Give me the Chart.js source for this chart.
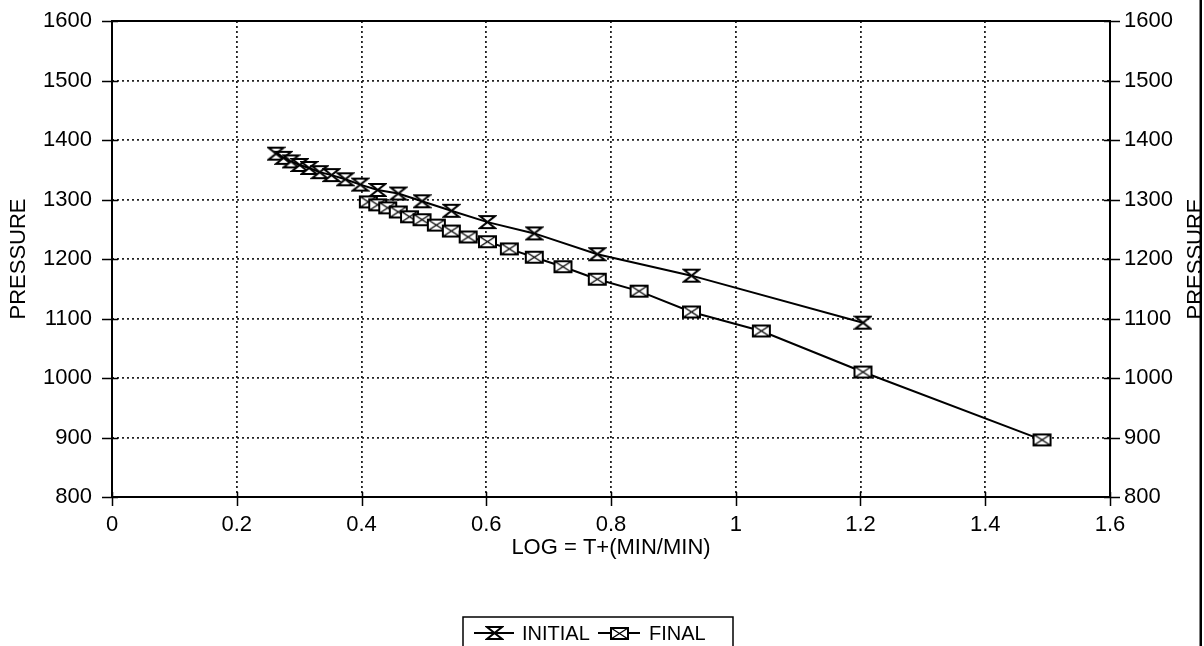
<!DOCTYPE html>
<html>
<head>
<meta charset="utf-8">
<script src="https://cdn.jsdelivr.net/npm/chart.js@4/dist/chart.umd.min.js"></script>
<style>
  html, body { margin: 0; padding: 0; background: #fff; }
  #wrap { width: 1204px; height: 646px; }
</style>
</head>
<body>
<div id="wrap"><canvas id="chart" width="1204" height="646"></canvas></div>
<script>
// Horner plot: log((T + dt) / dt) against pressure
const initialLog = [0.263, 0.275, 0.287, 0.301, 0.316, 0.333, 0.352, 0.374, 0.398, 0.426, 0.459, 0.497, 0.544, 0.602, 0.677, 0.778, 0.929, 1.204];
const initialPressure = [1377, 1370, 1364, 1358, 1353, 1346, 1341, 1334, 1325, 1316, 1310, 1297, 1281, 1262, 1243, 1208, 1172, 1093];
const finalLog = [0.411, 0.426, 0.442, 0.459, 0.477, 0.497, 0.520, 0.544, 0.571, 0.602, 0.637, 0.677, 0.723, 0.778, 0.845, 0.929, 1.041, 1.204, 1.491];
const finalPressure = [1296, 1291, 1286, 1279, 1271, 1266, 1257, 1247, 1237, 1229, 1217, 1203, 1187, 1166, 1146, 1111, 1079, 1010, 896];

const xTicks = [0, 0.2, 0.4, 0.6, 0.8, 1, 1.2, 1.4, 1.6];
const yTicks = [800, 900, 1000, 1100, 1200, 1300, 1400, 1500, 1600];
const seriesNames = ['INITIAL', 'FINAL'];
const xTitle = 'LOG = T+(MIN/MIN)';
const yTitle = 'PRESSURE';

const FONT = '"Liberation Sans", Arial, sans-serif';
const FONT_SIZE = 22;

function pairs(xs, ys) {
  return xs.map((x, i) => ({ x, y: ys[i] }));
}

// hourglass marker
function hourglass(w, h) {
  const c = document.createElement('canvas');
  c.width = w + 4;
  c.height = h + 4;
  const g = c.getContext('2d');
  g.translate(2, 2);
  g.lineWidth = 2;
  g.strokeStyle = '#000';
  g.fillStyle = '#fff';
  g.beginPath();
  g.moveTo(0, 0);
  g.lineTo(w, 0);
  g.lineTo(0, h);
  g.lineTo(w, h);
  g.closePath();
  g.fill();
  g.stroke();
  return c;
}

// box with a cross through it
function crossBox(w, h) {
  const c = document.createElement('canvas');
  c.width = w + 4;
  c.height = h + 4;
  const g = c.getContext('2d');
  g.translate(2, 2);
  g.lineWidth = 2;
  g.strokeStyle = '#000';
  g.fillStyle = '#fff';
  g.fillRect(0, 0, w, h);
  g.strokeRect(0, 0, w, h);
  g.lineWidth = 1.3;
  g.beginPath();
  g.moveTo(0, 0); g.lineTo(w, h);
  g.moveTo(w, 0); g.lineTo(0, h);
  g.stroke();
  return c;
}

const initialMark = hourglass(15, 12);
const finalMark = crossBox(17, 11);

const frame = {
  id: 'frame',
  afterDraw(chart) {
    const ctx = chart.ctx;
    const a = chart.chartArea;
    const ys = chart.scales.y;
    const xs = chart.scales.x;
    ctx.save();
    ctx.strokeStyle = '#000';
    ctx.lineWidth = 2;
    ctx.strokeRect(a.left, a.top, a.right - a.left, a.bottom - a.top);

    // cross ticks on both pressure axes and the log axis
    ctx.lineWidth = 1.5;
    ctx.beginPath();
    yTicks.forEach(v => {
      const py = Math.round(ys.getPixelForValue(v)) + 0.5;
      ctx.moveTo(a.left - 10, py); ctx.lineTo(a.left + 6, py);
      ctx.moveTo(a.right - 6, py); ctx.lineTo(a.right + 10, py);
    });
    xTicks.forEach(v => {
      const px = Math.round(xs.getPixelForValue(v)) + 0.5;
      ctx.moveTo(px, a.bottom - 5); ctx.lineTo(px, a.bottom + 9);
    });
    ctx.stroke();

    ctx.font = FONT_SIZE + 'px ' + FONT;
    ctx.fillStyle = '#000';

    // right axis title, reading upward
    ctx.save();
    ctx.translate(1196, (a.top + a.bottom) / 2);
    ctx.rotate(-Math.PI / 2);
    ctx.textAlign = 'center';
    ctx.textBaseline = 'middle';
    ctx.fillText(yTitle, 0, 0);
    ctx.restore();

    // page edge
    ctx.fillStyle = '#fff';
    ctx.fillRect(1202, 0, 2, chart.height);
    ctx.fillStyle = '#000';
    ctx.fillRect(1199.5, 0, 2.5, chart.height);

    // legend box
    const lx = 463, ly = 617, lw = 270;
    ctx.lineWidth = 1.5;
    ctx.beginPath();
    ctx.moveTo(lx, chart.height);
    ctx.lineTo(lx, ly);
    ctx.lineTo(lx + lw, ly);
    ctx.lineTo(lx + lw, chart.height);
    ctx.stroke();

    const ty = 633;
    const entries = [
      { x0: 474, x1: 514, mark: initialMark, text: seriesNames[0], tx: 522 },
      { x0: 598, x1: 640, mark: finalMark, text: seriesNames[1], tx: 649 }
    ];
    ctx.font = '20px ' + FONT;
    ctx.textAlign = 'left';
    ctx.textBaseline = 'middle';
    entries.forEach(e => {
      ctx.lineWidth = 2;
      ctx.beginPath();
      ctx.moveTo(e.x0, ty); ctx.lineTo(e.x1, ty);
      ctx.stroke();
      const cx = (e.x0 + e.x1) / 2;
      ctx.drawImage(e.mark, Math.round(cx - e.mark.width / 2), Math.round(ty - e.mark.height / 2));
      ctx.fillText(e.text, e.tx, ty + 1);
    });
    ctx.restore();
  }
};

const gridStyle = {
  color: '#222',
  lineWidth: 1.8,
  drawTicks: false
};

const tickFont = { family: FONT, size: FONT_SIZE };

// pressure axes: fixed width, and no extra room reserved for the end labels
function fitPressure(width) {
  return s => {
    s.width = width;
    s.paddingTop = 0;
    s.paddingBottom = 0;
  };
}

new Chart(document.getElementById('chart'), {
  type: 'line',
  data: {
    datasets: [
      {
        label: seriesNames[0],
        data: pairs(initialLog, initialPressure),
        borderColor: '#000',
        borderWidth: 2,
        pointStyle: initialMark,
        tension: 0,
        fill: false
      },
      {
        label: seriesNames[1],
        data: pairs(finalLog, finalPressure),
        borderColor: '#000',
        borderWidth: 2,
        pointStyle: finalMark,
        tension: 0,
        fill: false
      }
    ]
  },
  options: {
    responsive: false,
    devicePixelRatio: 1,
    animation: false,
    layout: { padding: { top: 21, left: 0, right: 0, bottom: 0 } },
    plugins: {
      legend: { display: false },
      tooltip: { enabled: false }
    },
    scales: {
      x: {
        type: 'linear',
        min: 0,
        max: 1.6,
        afterBuildTicks: s => { s.ticks = xTicks.map(v => ({ value: v })); },
        afterFit: s => { s.height = 149; s.paddingLeft = 0; s.paddingRight = 0; },
        grid: gridStyle,
        border: { display: false, dash: [2, 3] },
        ticks: {
          color: '#000',
          padding: 15,
          font: tickFont,
          callback: v => String(v)
        },
        title: {
          display: true,
          text: xTitle,
          color: '#000',
          font: tickFont,
          padding: { top: 0, bottom: 85 }
        }
      },
      y: {
        position: 'left',
        min: 800,
        max: 1600,
        afterBuildTicks: s => { s.ticks = yTicks.map(v => ({ value: v })); },
        afterFit: fitPressure(112),
        grid: gridStyle,
        border: { display: false, dash: [2, 3] },
        ticks: {
          color: '#000',
          padding: 20,
          font: tickFont,
          callback: v => String(v)
        },
        title: {
          display: true,
          text: yTitle,
          color: '#000',
          font: tickFont,
          padding: { top: 6, bottom: 0 }
        }
      },
      y2: {
        position: 'right',
        min: 800,
        max: 1600,
        afterBuildTicks: s => { s.ticks = yTicks.map(v => ({ value: v })); },
        afterFit: fitPressure(94),
        grid: { display: false, drawTicks: false },
        border: { display: false },
        ticks: {
          color: '#000',
          padding: 14,
          font: tickFont,
          callback: v => String(v)
        }
      }
    }
  },
  plugins: [frame]
});
</script>
</body>
</html>
